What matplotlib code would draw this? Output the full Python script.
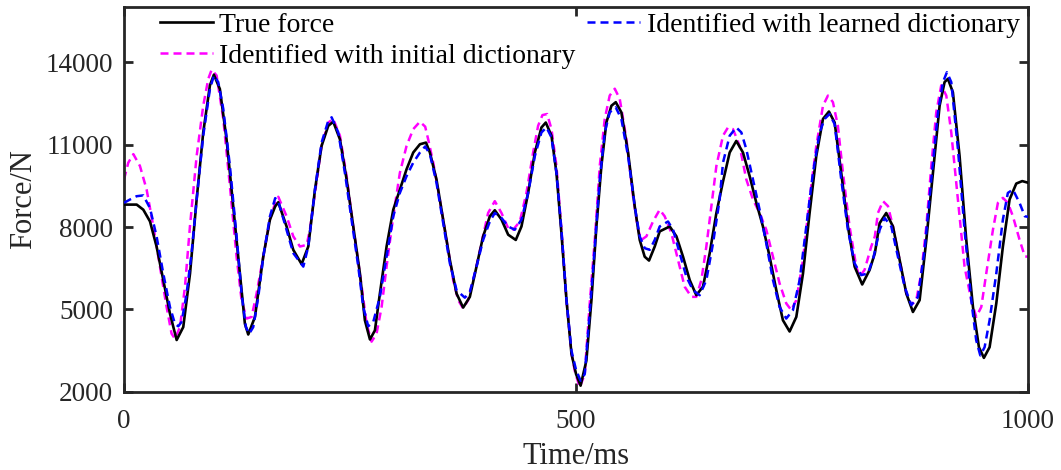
import matplotlib
matplotlib.use("Agg")
import matplotlib.pyplot as plt

# ---------------- data: (time ms, force N) ----------------
true_force = [
    (0, 8815), (14, 8815), (21.3, 8630), (28.7, 8205), (36, 7290), (43.4, 6070), (50.8, 4850),
    (58.2, 3890), (65.5, 4360), (73, 6310), (80.3, 9000), (87.6, 11440), (95, 13150), (99.4, 13540),
    (106, 13020), (113.4, 11190), (120.8, 8750), (128.2, 6310), (133.7, 4480), (137.4, 4090),
    (144.8, 4730), (154, 6920), (161.4, 8270), (167.2, 8750), (170.6, 8900), (179.8, 8020),
    (187.2, 7170), (196.4, 6650), (203.8, 7290), (211.2, 9360), (218.5, 10950), (225.9, 11680),
    (231.4, 11830), (238.8, 11190), (246.2, 9730), (253.5, 8020), (260.9, 6310), (266.4, 4610),
    (272, 3910), (277.5, 4240), (283, 5580), (290.4, 7290), (297.8, 8630), (305.1, 9360),
    (312.5, 10100), (319.9, 10710), (327.3, 11010), (334, 11070), (338.3, 10710), (345.6, 9730),
    (353, 8270), (360.4, 6800), (367.8, 5580), (375.1, 5070), (382.5, 5460), (389.9, 6560),
    (397.2, 7660), (404.6, 8390), (410.1, 8610), (417.5, 8270), (424.9, 7720), (433.3, 7530),
    (439.6, 8020), (447, 9240), (454.4, 10710), (461.7, 11620), (466.5, 11800), (472.8, 11320),
    (478.3, 9970), (483.8, 7780), (489.4, 5340), (494.9, 3390), (500, 2650), (505, 2230),
    (511.4, 3140), (517, 5340), (522.5, 8020), (528, 10220), (533.5, 11800), (539.1, 12410),
    (543.9, 12540), (550.1, 12170), (557.5, 10710), (564.9, 8750), (570.4, 7530), (575.9, 6920),
    (580.7, 6780), (587, 7290), (592.5, 7840), (603.6, 8020), (611, 7660), (618.3, 6920),
    (625.7, 6070), (633, 5520), (640.4, 5830), (647.8, 7050), (655.2, 8510), (662.5, 9650),
    (669.9, 10710), (677.2, 11130), (684.6, 10710), (692, 9850), (699.4, 8880), (706.7, 8020),
    (714.1, 6920), (721.5, 5700), (728.8, 4610), (736.2, 4200), (743.6, 4730), (751, 6310),
    (758.3, 8510), (765.7, 10580), (773.1, 11930), (779.7, 12200), (786, 11800), (793.3, 9970),
    (800.7, 8020), (808.1, 6560), (816.5, 5910), (824.7, 6440), (830.5, 7050), (835.8, 8140),
    (843.1, 8510), (850.5, 8020), (857.9, 6800), (865.3, 5580), (872.6, 4910), (880, 5340),
    (887.4, 7530), (894.7, 9970), (902.1, 12410), (907.6, 13270), (911.3, 13390), (916.8, 12900),
    (924.2, 10580), (931.6, 7530), (939, 5090), (945.6, 3630), (951.1, 3240), (957.4, 3630),
    (964.8, 5220), (972.1, 7290), (979.5, 9000), (986.9, 9580), (993.5, 9670), (1000, 9610)]

initial_dict = [
    (0, 9730), (4.7, 10340), (10.3, 10650), (17.6, 10220), (25, 9360), (32.4, 8020), (39.7, 6560),
    (47.1, 5090), (52.6, 4120), (56.3, 3935), (61.9, 4360), (67.4, 5830), (72.9, 8020),
    (80.3, 10580), (87.6, 12410), (93.2, 13390), (96.9, 13720), (102.4, 13510), (109.8, 11930),
    (117.1, 9490), (124.5, 6920), (130, 5340), (135.6, 4670), (141.1, 4730), (146.6, 5580),
    (154, 6920), (161.4, 8270), (167.2, 8880), (170.6, 9100), (179.8, 8390), (187.2, 7660),
    (194.6, 7290), (202, 7350), (205.6, 7900), (211.2, 9240), (218.5, 10950), (225.9, 11800),
    (231.4, 11930), (238.8, 11320), (246.2, 9850), (253.5, 8020), (260.9, 6310), (268.3, 4480),
    (273.8, 3830), (279.3, 4120), (284.9, 5090), (290.4, 6560), (297.8, 8390), (305.1, 9970),
    (312.5, 10950), (319.9, 11560), (327.3, 11830), (333.1, 11650), (336.4, 11190), (342, 10340),
    (349.3, 9000), (356.7, 7530), (364.1, 6070), (369.6, 5340), (375.1, 5040), (380.6, 5340),
    (388, 6310), (395.4, 7410), (402.7, 8510), (410.1, 8940), (417.5, 8510), (424.9, 7960),
    (430.4, 7900), (437.8, 8200), (445.1, 9240), (452.5, 10710), (458, 11680), (462.8, 12070),
    (468, 12110), (472.8, 11560), (478.3, 10220), (483.8, 7900), (489.4, 5340), (494.9, 3400),
    (499, 2700), (504.1, 2170), (509.6, 2650), (515.1, 5220), (520.7, 7530), (526.2, 10220),
    (531.7, 11930), (537.2, 12780), (542.8, 13030), (548.3, 12660), (555.7, 11190), (563, 9120),
    (568.6, 7900), (572.2, 7530), (577.8, 7660), (585.1, 8200), (592.5, 8630), (598, 8390),
    (605.4, 7780), (612.8, 6800), (620.1, 5830), (627.5, 5460), (633, 5460), (638.6, 6070),
    (644.1, 7290), (649.6, 8750), (655.2, 10220), (662.5, 11320), (668, 11620), (673.6, 11560),
    (680.9, 10950), (688.3, 9730), (695.7, 9000), (703, 8510), (710.4, 7900), (717.8, 6920),
    (725.1, 5950), (732.5, 5220), (738, 4980), (743.6, 5340), (751, 6800), (758.3, 9000),
    (765.7, 10950), (773.1, 12410), (778.6, 12780), (784.1, 12540), (789.6, 11680), (795.2, 9970),
    (802.5, 8020), (809.9, 6560), (813.6, 6190), (819.1, 6440), (826.5, 7290), (830.5, 7660),
    (833.9, 8510), (839.5, 8940), (845, 8760), (850.5, 8020), (857.9, 6800), (865.3, 5580),
    (870.8, 5170), (876.3, 5340), (881.8, 6310), (887.4, 8020), (892.9, 10220), (898.4, 12170),
    (903.9, 13150), (909.5, 12780), (915, 11440), (922.4, 9000), (929.7, 6560), (937.1, 5340),
    (942.6, 4730), (948.2, 5090), (953.7, 6310), (961.1, 7900), (966.6, 8880), (972.1, 9060),
    (977.6, 8880), (983.2, 8390), (990.5, 7540), (996.4, 6930), (1000, 6920)]

learned_dict = [
    (0, 8880), (6.6, 9000), (13.9, 9120), (21.3, 9150), (28.7, 8690), (36, 7660), (43.4, 6310),
    (50.8, 5090), (56.3, 4480), (60, 4390), (63.7, 4550), (69.2, 5580), (74.7, 7050), (80.3, 9000),
    (87.6, 11320), (95, 13020), (99.4, 13510), (104.2, 13270), (109.8, 12290), (117.1, 10220),
    (124.5, 7660), (130, 5580), (134.8, 4360), (138.5, 4120), (142.9, 4360), (148.5, 5460),
    (154, 6920), (161.4, 8390), (167.2, 9050), (170.6, 8940), (179.8, 7900), (187.2, 7050),
    (198.3, 6560), (203.8, 7290), (211.2, 9360), (218.5, 11070), (225.9, 11860), (229.6, 11990),
    (237, 11440), (244.3, 9970), (251.7, 8270), (259.1, 6560), (264.6, 5090), (270.1, 4390),
    (275.7, 4550), (283, 5460), (290.4, 6920), (297.8, 8390), (305.1, 9240), (312.5, 9850),
    (319.9, 10340), (327.3, 10710), (333.1, 10930), (338.3, 10650), (345.6, 9610), (353, 8140),
    (360.4, 6680), (367.8, 5700), (377, 5430), (382.5, 5640), (389.9, 6560), (397.2, 7530),
    (404.6, 8200), (410.1, 8510), (417.5, 8330), (424.9, 8020), (432.2, 7900), (439.6, 8270),
    (447, 9240), (454.4, 10580), (461.7, 11440), (467.3, 11620), (472.8, 11260), (478.3, 9970),
    (483.8, 7900), (489.4, 5340), (494.9, 3500), (500, 2800), (505, 2410), (509.6, 2650),
    (515.1, 4900), (520.7, 7290), (526.2, 9730), (531.7, 11440), (537.2, 12170), (543.9, 12350),
    (550.1, 11930), (557.5, 10580), (564.9, 8750), (570.4, 7660), (575.9, 7230), (581.5, 7170),
    (587, 7530), (592.5, 8020), (601.7, 8200), (607.3, 7900), (614.6, 7050), (622, 6190),
    (629.4, 5700), (636.7, 5520), (644.1, 6070), (651.5, 7410), (658.8, 9000), (662.5, 10340),
    (669.9, 11320), (677.2, 11620), (682.8, 11440), (688.3, 10830), (695.7, 9730), (703, 8630),
    (710.4, 7410), (717.8, 6070), (725.1, 5090), (732.5, 4670), (739.9, 4980), (747.3, 6070),
    (754.6, 8020), (762, 9970), (769.4, 11440), (774.9, 11930), (780.4, 12110), (786, 11740),
    (793.3, 9730), (800.7, 7900), (808.1, 6680), (815.4, 6250), (822.8, 6310), (829, 6900),
    (835.8, 7900), (841.3, 8330), (848.7, 8020), (856, 6920), (863.4, 5830), (870.8, 5160),
    (878.2, 5460), (885.5, 7170), (892.9, 9730), (900.3, 12170), (905.8, 13270), (910.2, 13630),
    (915, 13270), (922.4, 10830), (929.7, 7900), (937.1, 5340), (942.6, 3880), (947.1, 3330),
    (951.9, 3630), (957.4, 4610), (964.8, 6310), (972.1, 8270), (977.6, 9240), (983.2, 9360),
    (990.5, 8880), (996.4, 8390), (1000, 8370)]

x_ticks = [0, 500, 1000]
y_ticks = [2000, 5000, 8000, 11000, 14000]
labels = ["True force", "Identified with initial dictionary", "Identified with learned dictionary"]


def split(pairs):
    return [p[0] for p in pairs], [p[1] for p in pairs]


# ---------------- styling ----------------
plt.rcParams['font.family'] = ['Liberation Serif', 'DejaVu Serif']
FS = 20
GREY = '#262626'

fig = plt.figure(figsize=(10.61, 4.70), dpi=100)
ax = fig.add_axes([0.1169, 0.166, 0.969 - 0.1169, 0.985 - 0.166])

tt, ft = split(true_force)
ti, fi = split(initial_dict)
tl, fl = split(learned_dict)
l_true, = ax.plot(tt, ft, color='black', lw=1.9, label=labels[0], zorder=3,
                  solid_joinstyle='round')
l_init, = ax.plot(ti, fi, color='#FF00FF', lw=1.8, ls=(0, (3.2, 2.0)), label=labels[1], zorder=2)
l_learn, = ax.plot(tl, fl, color='#0000FF', lw=1.8, ls=(0, (3.2, 2.0)), label=labels[2], zorder=4)

ax.set_xlim(0, 1000)
ax.set_ylim(2000, 16000)
ax.set_xticks(x_ticks)
ax.set_yticks(y_ticks)
ax.tick_params(direction='in', length=6.5, width=2, colors=GREY, labelsize=19.5,
               top=True, right=True)
ax.tick_params(axis='x', pad=12)
ax.tick_params(axis='y', pad=8)
for s in ax.spines.values():
    s.set_linewidth(2)
    s.set_color(GREY)

ax.set_xlabel('Time/ms', fontsize=22, color=GREY, labelpad=6)
ax.set_ylabel('Force/N', fontsize=22, color=GREY, labelpad=5)

leg = ax.legend(handles=[l_true, l_init, l_learn], ncol=2, loc='upper left',
                bbox_to_anchor=(0.038, 0.99), frameon=False, fontsize=FS,
                handlelength=1.9, handletextpad=0.25, columnspacing=0.4,
                labelspacing=0.2, borderpad=0.05, borderaxespad=0.0)

fig.savefig('out.png', dpi=100)
